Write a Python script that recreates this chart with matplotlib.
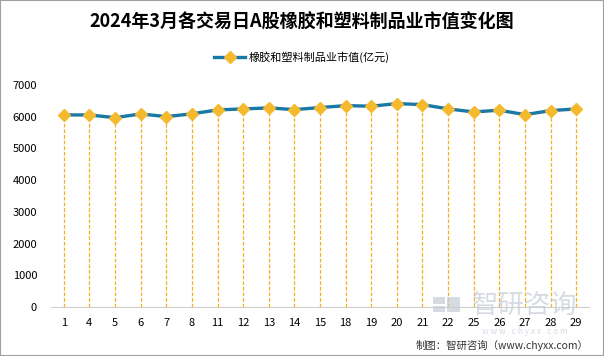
import matplotlib.pyplot as plt
from matplotlib.patches import Rectangle

plt.rcParams['font.family'] = ['Noto Sans CJK SC', 'DejaVu Sans']

# 交易日 및 시가총액(억원)
days = ['1', '4', '5', '6', '7', '8', '11', '12', '13', '14', '15',
        '18', '19', '20', '21', '22', '25', '26', '27', '28', '29']
values = [6057, 6055, 5970, 6088, 6003, 6090, 6215, 6246, 6278, 6224, 6288,
          6350, 6331, 6413, 6382, 6246, 6151, 6205, 6066, 6192, 6246]

fig = plt.figure(figsize=(6.04, 3.56), dpi=100)
ax = fig.add_axes([51 / 604, 1 - 307 / 356, 538 / 604, 222 / 356])

x = list(range(len(days)))
ax.vlines(x, 0, values, colors='#f5b01e', linestyles=(0, (3, 1.5)), linewidth=0.9)
ax.plot(x, values, color='#1a78a6', linewidth=2.4, marker='D', markersize=6,
        markerfacecolor='#f4b92c', markeredgecolor='#f4b92c', label='橡胶和塑料制品业市值(亿元)')

ax.set_xlim(-0.5, len(days) - 0.5)
ax.set_ylim(0, 7000)
ax.set_yticks(range(0, 7001, 1000))
ax.set_xticks(x)
ax.set_xticklabels(days)
ax.tick_params(axis='both', length=0, labelsize=8, colors='black')
ax.tick_params(axis='x', pad=8)
ax.tick_params(axis='y', pad=10)
for s in ['top', 'right', 'left']:
    ax.spines[s].set_visible(False)
ax.spines['bottom'].set_color('#d0d0d0')

fig.text(0.5, 1 - 22 / 356, '2024年3月各交易日A股橡胶和塑料制品业市值变化图',
         ha='center', va='center', fontsize=13, fontweight='bold')
fig.legend(loc='center', bbox_to_anchor=(0.5, 1 - 57 / 356), frameon=False,
           fontsize=8, handlelength=2.8, handletextpad=0.3)

# 워터마크 (로고 + 글자)
wm = '#c5ccd6'
for (lx, ly, lw, lh) in [(433, 297, 12, 7), (433, 306, 12, 6), (447, 297, 13, 15)]:
    fig.patches.append(Rectangle((lx / 604, 1 - (ly + lh) / 356), lw / 604, lh / 356,
                                 transform=fig.transFigure, facecolor=wm, edgecolor='none',
                                 alpha=0.7, zorder=0))
fig.text(525 / 604, 1 - 305 / 356, '智研咨询', ha='center', va='center',
         fontsize=19, color=wm, alpha=0.7, zorder=0)
fig.text(525 / 604, 1 - 331 / 356, 'w w w . c h y x x . c o m', ha='center', va='center',
         fontsize=6, color=wm, alpha=0.7, zorder=0)

fig.text(588 / 604, 1 - 345 / 356, '制图：智研咨询（www.chyxx.com）', ha='right', va='center',
         fontsize=7.5, color='#333333')

fig.patches.append(Rectangle((0, 0), 1, 1, transform=fig.transFigure, fill=False,
                             edgecolor='#a0a0a0', linewidth=1.5))

fig.savefig('out.png', dpi=100)
